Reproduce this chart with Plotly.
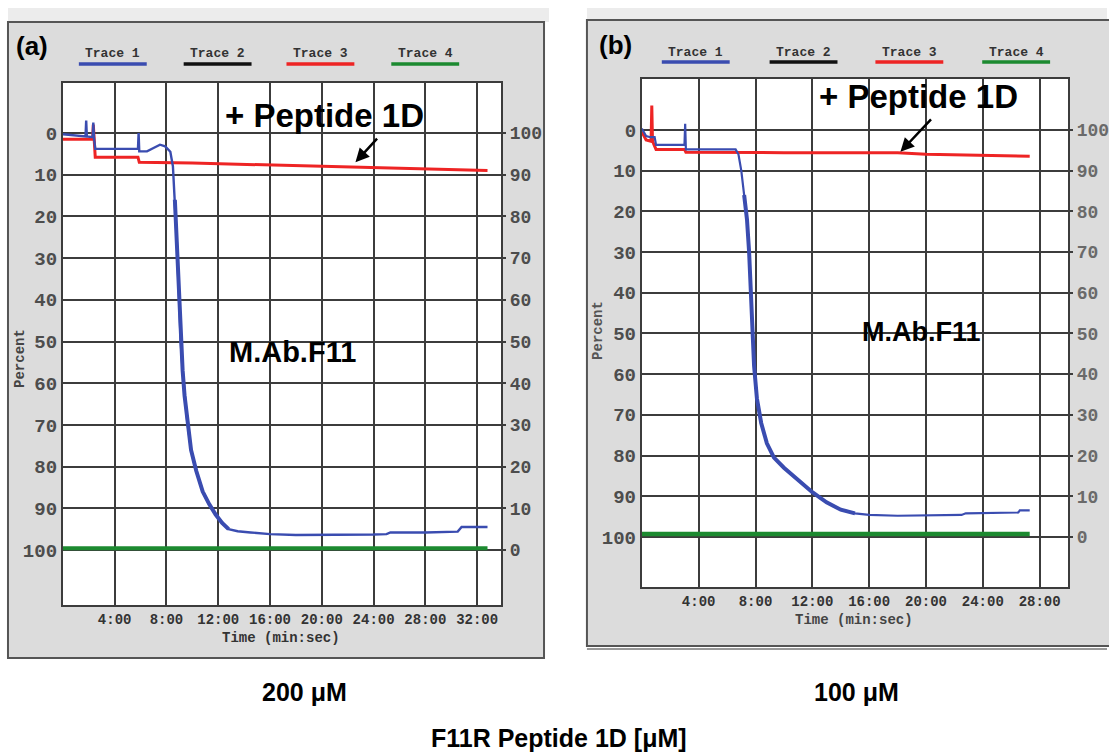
import plotly.graph_objects as go

W, H = 1109, 755

# ---------------- data ----------------
# Panel (a): 200 uM, time in minutes, y in Percent (0 at top)
a_blue_t = [0, 1.0, 1.75, 1.8, 1.85, 2.3, 2.35, 2.4, 2.5, 5.8, 5.85, 5.9, 6.5, 7.0, 7.5, 7.9, 8.3,
            8.5, 8.65, 8.8, 8.95, 9.1, 9.25, 9.4, 9.6, 9.9, 10.3, 10.8, 11.3, 11.8, 12.3, 12.8,
            13.5, 14.5, 16.0, 18.0, 21.0, 24.0, 25.0, 25.3, 28.0, 30.5, 30.8, 32.8]
a_blue_v = [0.3, 0.6, 0.8, -3.0, 0.8, 1.0, -2.5, 1.0, 3.8, 3.8, 0.0, 4.4, 4.4, 3.6, 2.8, 3.2, 4.5,
            8, 16, 26, 38, 50, 57, 63, 69, 76, 81, 86, 89, 91.5, 93.5, 95,
            95.5, 95.8, 96.2, 96.4, 96.4, 96.3, 96.2, 95.8, 95.8, 95.6, 94.5, 94.5]
a_red_t = [0, 2.3, 2.35, 2.4, 2.5, 5.8, 5.9, 10, 15, 20, 25, 30, 32.8]
a_red_v = [1.5, 1.5, -2.0, 1.5, 5.8, 5.8, 7.0, 7.2, 7.6, 8.0, 8.4, 8.8, 9.0]
a_green_t = [0, 32.8]
a_green_v = [99.6, 99.6]

# Panel (b): 100 uM
b_blue_t = [0, 0.3, 0.6, 0.9, 1.0, 3.0, 3.05, 3.1, 6.6, 6.8, 7.0, 7.2, 7.4, 7.55, 7.7, 7.8, 7.9,
            8.1, 8.4, 8.8, 9.3, 10.0, 11.0, 12.0, 13.0, 14.0, 15.0, 16.0, 18.0, 22.5, 22.8, 26.5,
            26.6, 27.3]
b_blue_v = [-0.3, 1.5, 1.8, 1.8, 3.7, 3.7, -1.5, 4.8, 4.8, 6, 10, 16, 22, 30, 40, 50, 58,
            66, 72, 77, 80.5, 83, 86, 89, 91.5, 93.3, 94.2, 94.6, 94.8, 94.6, 94.2, 94.0,
            93.5, 93.5]
b_red_t = [0, 0.3, 0.65, 0.7, 0.75, 1.0, 3.0, 3.1, 10, 18, 20, 24, 27.3]
b_red_v = [0.5, 2.5, 2.8, -6.0, 2.8, 4.8, 4.8, 5.5, 5.6, 5.6, 6.0, 6.3, 6.5]
b_green_t = [0, 27.3]
b_green_v = [99.3, 99.3]

# time windows where the blue trace is noisy (drawn as a thicker band)
a_noisy = (8.6, 13.0)
b_noisy = (7.2, 15.0)

a_xticks = [4, 8, 12, 16, 20, 24, 28, 32]
b_xticks = [4, 8, 12, 16, 20, 24, 28]
xtick_text = {4: "4:00", 8: "8:00", 12: "12:00", 16: "16:00", 20: "20:00",
              24: "24:00", 28: "28:00", 32: "32:00"}
yticks = [0, 10, 20, 30, 40, 50, 60, 70, 80, 90, 100]
legend_names = ["Trace 1", "Trace 2", "Trace 3", "Trace 4"]

# ---------------- styles ----------------
BLUE = "#3a4cb0"
RED = "#ee2424"
GREEN = "#1c8a30"
BLACK = "#111111"
GRID = "#3c3c3c"
PANEL = "#dcdcdc"
MONO = "Liberation Mono"
SANS = "Liberation Sans"


def X(px):
    return px / W


def Y(py):
    return 1 - py / H


fig = go.Figure()


def add_line(t, v, color, width, xa, ya):
    fig.add_trace(go.Scatter(x=t, y=v, mode="lines", line=dict(color=color, width=width),
                             xaxis=xa, yaxis=ya, showlegend=False, hoverinfo="skip"))


def noisy_part(t, v, win):
    pts = [(a, b) for a, b in zip(t, v) if win[0] <= a <= win[1]]
    return [p[0] for p in pts], [p[1] for p in pts]


# panel a
add_line(a_green_t, a_green_v, GREEN, 4, "x", "y")
add_line(a_red_t, a_red_v, RED, 3, "x", "y")
add_line(a_blue_t, a_blue_v, BLUE, 2.4, "x", "y")
nt, nv = noisy_part(a_blue_t, a_blue_v, a_noisy)
add_line(nt, nv, BLUE, 4, "x", "y")
# panel b
add_line(b_green_t, b_green_v, GREEN, 4.5, "x2", "y2")
add_line(b_red_t, b_red_v, RED, 3, "x2", "y2")
add_line(b_blue_t, b_blue_v, BLUE, 2.2, "x2", "y2")
nt, nv = noisy_part(b_blue_t, b_blue_v, b_noisy)
add_line(nt, nv, BLUE, 4, "x2", "y2")
# dummies for right-hand axes
fig.add_trace(go.Scatter(x=[None], y=[None], xaxis="x", yaxis="y3", showlegend=False))
fig.add_trace(go.Scatter(x=[None], y=[None], xaxis="x2", yaxis="y4", showlegend=False))

a_yr = [113.2, -12.0]
b_yr = [112.3, -12.5]

tickfont_y = dict(family=MONO, size=19, color="#4d4d4d", weight="bold")
tickfont_x = dict(family=MONO, size=14, color="#333333", weight="bold")

common_x = dict(showgrid=True, gridcolor=GRID, gridwidth=1.5, showline=True, linecolor=GRID,
                linewidth=2, mirror=True, zeroline=False, tickfont=tickfont_x, ticks="",
                fixedrange=True)
common_y = dict(showgrid=True, gridcolor=GRID, gridwidth=1.5, showline=True, linecolor=GRID,
                linewidth=2, mirror=True, zeroline=False, tickfont=tickfont_y, ticks="",
                tickvals=yticks, fixedrange=True)

fig.update_layout(
    width=W, height=H, margin=dict(l=0, r=0, t=0, b=0),
    paper_bgcolor="white", plot_bgcolor="white", showlegend=False,
    xaxis=dict(domain=[X(63), X(502)], range=[0, 33.85], anchor="y",
               tickvals=a_xticks, ticktext=[xtick_text[t] for t in a_xticks], **common_x),
    yaxis=dict(domain=[Y(605), Y(83)], range=a_yr, anchor="x", **common_y),
    yaxis3=dict(domain=[Y(605), Y(83)], range=[100 - a_yr[0], 100 - a_yr[1]], overlaying="y",
                side="right", anchor="x", showgrid=False, zeroline=False, tickvals=yticks,
                ticks="outside", ticklen=4, tickcolor=GRID, tickwidth=1.5,
                tickfont=dict(family=MONO, size=18, color="#4d4d4d", weight="bold"),
                fixedrange=True),
    xaxis2=dict(domain=[X(643), X(1070)], range=[0, 30.0], anchor="y2",
                tickvals=b_xticks, ticktext=[xtick_text[t] for t in b_xticks], **common_x),
    yaxis2=dict(domain=[Y(587), Y(79)], range=b_yr, anchor="x2", **common_y),
    yaxis4=dict(domain=[Y(587), Y(79)], range=[100 - b_yr[0], 100 - b_yr[1]], overlaying="y2",
                side="right", anchor="x2", showgrid=False, zeroline=False, tickvals=yticks,
                ticks="outside", ticklen=4, tickcolor=GRID, tickwidth=1.5,
                tickfont=dict(family=MONO, size=18, color="#6a6a6a", weight="bold"),
                fixedrange=True),
)

shapes = []
# panel backgrounds
shapes.append(dict(type="rect", xref="paper", yref="paper", x0=X(8), x1=X(550), y0=Y(8), y1=Y(22),
                   fillcolor="#ececec", line=dict(width=0), layer="below"))
shapes.append(dict(type="rect", xref="paper", yref="paper", x0=X(8), x1=X(545), y0=Y(658), y1=Y(22),
                   fillcolor=PANEL, line=dict(color="#555555", width=2), layer="below"))
shapes.append(dict(type="rect", xref="paper", yref="paper", x0=X(588), x1=X(1109), y0=Y(8), y1=Y(20),
                   fillcolor="#ececec", line=dict(width=0), layer="below"))
shapes.append(dict(type="rect", xref="paper", yref="paper", x0=X(588), x1=X(1115), y0=Y(646), y1=Y(20),
                   fillcolor=PANEL, line=dict(color="#555555", width=2), layer="below"))
shapes.append(dict(type="line", xref="paper", yref="paper", x0=X(588), x1=X(1109), y0=Y(649), y1=Y(649),
                   line=dict(color="#999999", width=2), layer="below"))
# white plot areas
shapes.append(dict(type="rect", xref="x domain", yref="y domain", x0=0, x1=1, y0=0, y1=1,
                   fillcolor="white", line=dict(width=0), layer="below"))
shapes.append(dict(type="rect", xref="x2 domain", yref="y2 domain", x0=0, x1=1, y0=0, y1=1,
                   fillcolor="white", line=dict(width=0), layer="below"))

annotations = []
leg_colors = [BLUE, BLACK, RED, GREEN]
for cx_list, ty, uy in [([113, 218, 321, 426], 53, 64), ([697, 805, 911, 1018], 52, 62)]:
    for name, cx, col in zip(legend_names, cx_list, leg_colors):
        annotations.append(dict(text=name, xref="paper", yref="paper", x=X(cx), y=Y(ty),
                                showarrow=False, xanchor="center", yanchor="middle",
                                font=dict(family=MONO, size=13, color="#333333", weight="bold")))
        shapes.append(dict(type="line", xref="paper", yref="paper", x0=X(cx - 34), x1=X(cx + 34),
                           y0=Y(uy), y1=Y(uy), line=dict(color=col, width=3.5)))


def txt(s, px, py, size, family=SANS, color="black", bold=True, angle=0):
    annotations.append(dict(text=s, xref="paper", yref="paper", x=X(px), y=Y(py), showarrow=False,
                            xanchor="center", yanchor="middle", textangle=angle,
                            font=dict(family=family, size=size, color=color,
                                      weight="bold" if bold else "normal")))


txt("(a)", 32, 46, 26)
txt("(b)", 617, 45, 26)
txt("+ Peptide 1D", 325, 115, 33)
txt("+ Peptide 1D", 920, 97, 33)
txt("M.Ab.F11", 293, 352, 29)
txt("M.Ab.F11", 923, 332, 27)
txt("Percent", 20, 358, 14, family=MONO, color="#444444", angle=-90)
txt("Percent", 599, 330, 14, family=MONO, color="#555555", angle=-90)
txt("Time (min:sec)", 282, 638, 14, family=MONO, color="#333333")
txt("Time (min:sec)", 856, 620, 14, family=MONO, color="#444444")
txt("200 μM", 305, 692, 25)
txt("100 μM", 858, 692, 25)
txt("F11R Peptide 1D [μM]", 560, 738, 25)

# arrows pointing at the red traces
annotations.append(dict(x=22.6, y=7.0, xref="x", yref="y", ax=23, ay=-25, text="", showarrow=True,
                        arrowhead=2, arrowsize=1.1, arrowwidth=2.5, arrowcolor="black"))
annotations.append(dict(x=18.2, y=5.4, xref="x2", yref="y2", ax=32, ay=-34, text="", showarrow=True,
                        arrowhead=2, arrowsize=1.1, arrowwidth=2.5, arrowcolor="black"))

fig.update_layout(shapes=shapes, annotations=annotations)
fig.write_html("out.html")
